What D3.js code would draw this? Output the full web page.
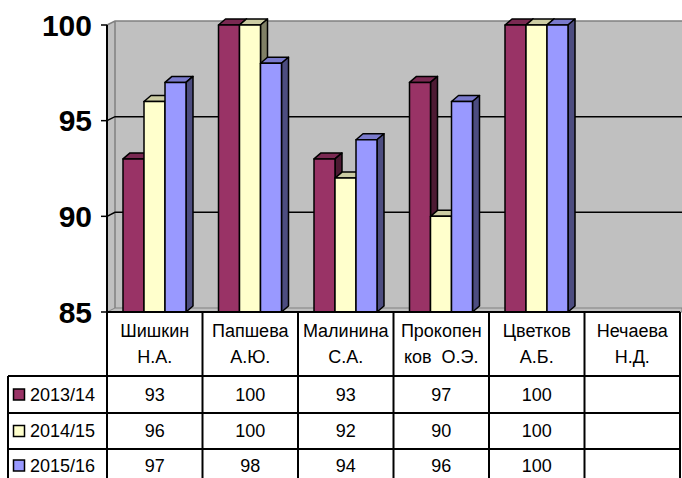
<!DOCTYPE html>
<html><head><meta charset="utf-8">
<script src="https://cdn.jsdelivr.net/npm/d3@7/dist/d3.min.js"></script>
<style>body{margin:0;background:#fff}svg{display:block}</style>
</head><body>
<svg id="c" width="682" height="478"></svg>
<script>
const categories = ["Шишкин Н.А.","Папшева А.Ю.","Малинина С.А.","Прокопенков О.Э.","Цветков А.Б.","Нечаева Н.Д."];
const categoryLines = [["Шишкин","Н.А."],["Папшева","А.Ю."],["Малинина","С.А."],["Прокопен","ков  О.Э."],["Цветков","А.Б."],["Нечаева","Н.Д."]];
const seriesNames = ["2013/14","2014/15","2015/16"];
const values2013 = [93,100,93,97,100,null];
const values2014 = [96,100,92,90,100,null];
const values2015 = [97,98,94,96,100,null];
const yTicks = [85,90,95,100];

const seriesValues = [values2013, values2014, values2015];
const fronts = ["#993366","#FFFFCC","#9999FF"];
const sides = ["#4d1a33","#808066","#4d4d80"];
const tops = ["#7a2952","#cccca3","#7a7acc"];

const svg = d3.select("#c");
const W = 682;
const x0 = 107, dx = 8, dy = 4;
const y = d3.scaleLinear().domain([85,100]).range([312,25]);
const x = d3.scaleBand().domain(categories).range([x0, W-2]).padding(0);
const xs = d3.scaleBand().domain(seriesNames).range([16, 79]).padding(0);
const bdx = 7, bdy = 6;

// back wall
svg.append("rect").attr("x", x0+dx).attr("y", y(100)-dy).attr("width", W-x0-dx).attr("height", y(85)-y(100)).attr("fill","#c0c0c0");
// side wall
svg.append("path").attr("d", `M${x0},${y(100)}L${x0+dx},${y(100)-dy}L${x0+dx},${y(85)-dy}L${x0},${y(85)}Z`).attr("fill","#c0c0c0");
// floor
svg.append("path").attr("d", `M${x0},${y(85)}L${x0+dx},${y(85)-dy}L${W},${y(85)-dy}L${W},${y(85)}Z`).attr("fill","#c0c0c0").attr("stroke","#808080").attr("stroke-width",1);
// wall edges
svg.append("path").attr("d", `M${x0},${y(100)}L${x0+dx},${y(100)-dy}L${W},${y(100)-dy}M${x0+dx},${y(100)-dy}L${x0+dx},${y(85)-dy}`).attr("fill","none").attr("stroke","#808080").attr("stroke-width",1.5);
// gridlines
[90,95].forEach(v=>{
  svg.append("path").attr("d", `M${x0},${y(v)}L${x0+dx},${y(v)-dy}L${W},${y(v)-dy}`).attr("fill","none").attr("stroke","#000").attr("stroke-width",1.5);
});

// bars
categories.forEach((c,ci)=>{
  seriesNames.forEach((s,si)=>{
    const v = seriesValues[si][ci];
    if (v == null) return;
    const bx = x(c) + xs(s), bw = xs.bandwidth();
    const yt = y(v), yb = y(85);
    const g = svg.append("g").attr("stroke","#000").attr("stroke-width",1.5).attr("stroke-linejoin","round");
    g.append("path").attr("d", `M${bx},${yt}L${bx+bdx},${yt-bdy}L${bx+bw+bdx},${yt-bdy}L${bx+bw},${yt}Z`).attr("fill", tops[si]);
    g.append("path").attr("d", `M${bx+bw},${yt}L${bx+bw+bdx},${yt-bdy}L${bx+bw+bdx},${yb-bdy}L${bx+bw},${yb}Z`).attr("fill", sides[si]);
    g.append("rect").attr("x", bx).attr("y", yt).attr("width", bw).attr("height", yb-yt).attr("fill", fronts[si]);
  });
});

// y axis
svg.append("line").attr("x1",x0).attr("x2",x0).attr("y1",y(100)).attr("y2",y(85)).attr("stroke","#000").attr("stroke-width",2);
yTicks.forEach(v=>{
  svg.append("line").attr("x1",x0-6).attr("x2",x0).attr("y1",y(v)).attr("y2",y(v)).attr("stroke","#000").attr("stroke-width",1.5);
  svg.append("text").attr("x",92).attr("y",y(v)).attr("dy","0.36em").attr("text-anchor","end")
    .attr("font-family","'Liberation Sans', Arial, sans-serif").attr("font-weight","bold").attr("font-size",30).text(v);
});

// data table
const rowY = [312, 376, 413, 449, 486];
const font = "'Liberation Sans', Arial, sans-serif";
const fs = 18;
const t = svg.append("g").attr("stroke","#000").attr("stroke-width",2).attr("fill","none");
t.append("line").attr("x1",x0).attr("x2",W-2).attr("y1",rowY[0]).attr("y2",rowY[0]);
for (let r=1;r<rowY.length;r++) t.append("line").attr("x1",8).attr("x2",W-2).attr("y1",rowY[r]).attr("y2",rowY[r]);
t.append("line").attr("x1",8).attr("x2",8).attr("y1",rowY[1]).attr("y2",rowY[4]);
categories.forEach(c=>{
  t.append("line").attr("x1",x(c)).attr("x2",x(c)).attr("y1",rowY[0]).attr("y2",rowY[4]);
});
t.append("line").attr("x1",W-2).attr("x2",W-2).attr("y1",rowY[0]).attr("y2",rowY[4]);

categories.forEach((c,ci)=>{
  const cx = x(c) + x.bandwidth()/2;
  categoryLines[ci].forEach((ln,li)=>{
    svg.append("text").attr("x",cx).attr("y", li===0?331:357).attr("dy","0.36em").attr("text-anchor","middle")
      .attr("font-family",font).attr("font-size",fs).style("white-space","pre").text(ln);
  });
  seriesNames.forEach((s,si)=>{
    const v = seriesValues[si][ci];
    if (v == null) return;
    svg.append("text").attr("x",cx).attr("y",(rowY[si+1]+rowY[si+2])/2 - (si===2?2:0)).attr("dy","0.36em").attr("text-anchor","middle")
      .attr("font-family",font).attr("font-size",fs).text(v);
  });
});
seriesNames.forEach((s,si)=>{
  const cy = (rowY[si+1]+rowY[si+2])/2 - (si===2?2:0);
  svg.append("rect").attr("x",13.5).attr("y",cy-5.5).attr("width",11).attr("height",11).attr("fill",fronts[si]).attr("stroke","#000").attr("stroke-width",1.5);
  svg.append("text").attr("x",30).attr("y",cy).attr("dy","0.36em").attr("font-family",font).attr("font-size",fs).text(s);
});
</script>
</body></html>
